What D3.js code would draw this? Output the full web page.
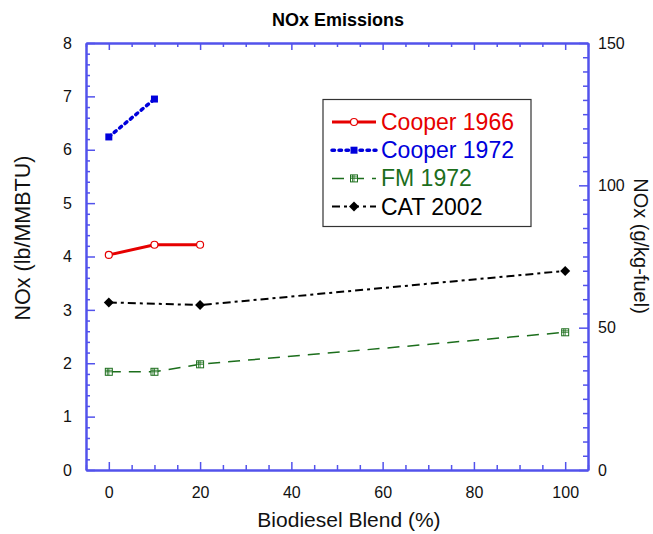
<!DOCTYPE html>
<html>
<head>
<meta charset="utf-8">
<script src="https://cdn.jsdelivr.net/npm/d3@7"></script>
<style>
  html, body { margin: 0; padding: 0; background: #fff; }
  svg { display: block; font-family: "Liberation Sans", Arial, Helvetica, sans-serif; }
</style>
</head>
<body>
<svg id="chart" width="653" height="534"></svg>
<script>
// Blend level (% biodiesel) and NOx (lb/MMBTU) for each study
const cooper1966X = [0, 10, 20];
const cooper1966Y = [4.03, 4.22, 4.22];
const cooper1972X = [0, 10];
const cooper1972Y = [6.24, 6.95];
const fm1972X = [0, 10, 20, 100];
const fm1972Y = [1.84, 1.84, 1.98, 2.58];
const cat2002X = [0, 20, 100];
const cat2002Y = [3.14, 3.09, 3.73];

const seriesNames = ["Cooper 1966", "Cooper 1972", "FM 1972", "CAT 2002"];
const xTicks = [0, 20, 40, 60, 80, 100];
const yLeftTicks = [0, 1, 2, 3, 4, 5, 6, 7, 8];
const yRightTicks = [0, 50, 100, 150];

const svg = d3.select("#chart");
const plotLeft = 86, plotRight = 588, plotTop = 43, plotBottom = 470;

const x = d3.scaleLinear().domain([-5, 105]).range([plotLeft, plotRight]);
const y = d3.scaleLinear().domain([0, 8]).range([plotBottom, plotTop]);
const y2 = d3.scaleLinear().domain([0, 150]).range([plotBottom, plotTop]);

const axisColor = "#5252ec";

function styleAxis(g, fontSize) {
  g.selectAll("path.domain").attr("stroke", axisColor).attr("stroke-width", 2);
  g.selectAll(".tick line").attr("stroke", axisColor).attr("stroke-width", 1.5);
  g.selectAll(".tick text").attr("fill", "#111").attr("font-size", fontSize)
    .attr("font-family", "'Liberation Sans', Arial, sans-serif");
}

// minor ticks
const xMinor = d3.range(-5, 106, 5).filter(v => v % 20 !== 0);
const yMinor = d3.range(0, 8.01, 0.2).map(v => +v.toFixed(1)).filter(v => Math.abs(v - Math.round(v)) > 1e-6);
const y2Minor = d3.range(0, 151, 5).filter(v => v % 50 !== 0);

// bottom
svg.append("g").attr("transform", `translate(0,${plotBottom})`)
  .call(d3.axisBottom(x).tickValues(xMinor).tickFormat("").tickSizeInner(-5).tickSizeOuter(0))
  .call(g => styleAxis(g, 16));
svg.append("g").attr("transform", `translate(0,${plotBottom})`)
  .call(d3.axisBottom(x).tickValues(xTicks).tickSizeInner(-8).tickSizeOuter(0).tickPadding(17))
  .call(g => styleAxis(g, 16));
// top
svg.append("g").attr("transform", `translate(0,${plotTop})`)
  .call(d3.axisTop(x).tickValues(xMinor).tickFormat("").tickSizeInner(-4).tickSizeOuter(0))
  .call(g => styleAxis(g, 16));
svg.append("g").attr("transform", `translate(0,${plotTop})`)
  .call(d3.axisTop(x).tickValues(xTicks).tickFormat("").tickSizeInner(-7).tickSizeOuter(0))
  .call(g => styleAxis(g, 16));
// left
svg.append("g").attr("transform", `translate(${plotLeft},0)`)
  .call(d3.axisLeft(y).tickValues(yMinor).tickFormat("").tickSizeInner(-4).tickSizeOuter(0))
  .call(g => styleAxis(g, 16));
svg.append("g").attr("transform", `translate(${plotLeft},0)`)
  .call(d3.axisLeft(y).tickValues(yLeftTicks).tickSizeInner(-9).tickSizeOuter(0).tickPadding(14))
  .call(g => styleAxis(g, 16));
// right
svg.append("g").attr("transform", `translate(${plotRight},0)`)
  .call(d3.axisRight(y2).tickValues(y2Minor).tickFormat("").tickSizeInner(-5).tickSizeOuter(0))
  .call(g => styleAxis(g, 16));
svg.append("g").attr("transform", `translate(${plotRight},0)`)
  .call(d3.axisRight(y2).tickValues(yRightTicks).tickSizeInner(-9).tickSizeOuter(0).tickPadding(10))
  .call(g => styleAxis(g, 16));

// titles
svg.append("text").attr("x", 338).attr("y", 26).attr("text-anchor", "middle")
  .attr("font-size", 18).attr("font-weight", "bold").attr("fill", "#000").text("NOx Emissions");
svg.append("text").attr("x", 349).attr("y", 527).attr("text-anchor", "middle")
  .attr("font-size", 21).attr("fill", "#111").text("Biodiesel Blend (%)");
svg.append("text").attr("transform", "translate(30,238) rotate(-90)").attr("text-anchor", "middle")
  .attr("font-size", 21.5).attr("fill", "#111").text("NOx (lb/MMBTU)");
svg.append("text").attr("transform", "translate(634,246) rotate(90)").attr("text-anchor", "middle")
  .attr("font-size", 20).attr("fill", "#111").text("NOx (g/kg-fuel)");

const series = [
  { name: seriesNames[0], xs: cooper1966X, ys: cooper1966Y, color: "#e60000", width: 3, dash: null, marker: "circle" },
  { name: seriesNames[1], xs: cooper1972X, ys: cooper1972Y, color: "#0000dc", width: 3.5, dash: "2.5,4.5", marker: "square" },
  { name: seriesNames[2], xs: fm1972X, ys: fm1972Y, color: "#1c6e1c", width: 1.5, dash: "12,8", marker: "grid" },
  { name: seriesNames[3], xs: cat2002X, ys: cat2002Y, color: "#000000", width: 2, dash: "8,4,3,4", marker: "diamond" }
];

const line = d3.line().x(d => x(d[0])).y(d => y(d[1]));

function drawMarker(g, type, cx, cy, color) {
  if (type === "circle") {
    g.append("circle").attr("cx", cx).attr("cy", cy).attr("r", 3.5)
      .attr("fill", "#fff").attr("stroke", color).attr("stroke-width", 1.2);
  } else if (type === "square") {
    g.append("rect").attr("x", cx - 3.5).attr("y", cy - 3.5).attr("width", 7).attr("height", 7)
      .attr("fill", color);
  } else if (type === "grid") {
    g.append("rect").attr("x", cx - 3.5).attr("y", cy - 3.5).attr("width", 7).attr("height", 7)
      .attr("fill", "#fff").attr("stroke", color).attr("stroke-width", 1);
    g.append("path").attr("d", `M${cx - 3.5},${cy}H${cx + 3.5}M${cx},${cy - 3.5}V${cy + 3.5}M${cx - 3.5},${cy - 1.5}H${cx + 3.5}M${cx - 1.5},${cy - 3.5}V${cy + 3.5}`)
      .attr("stroke", color).attr("stroke-width", 0.8).attr("fill", "none");
  } else if (type === "diamond") {
    g.append("path").attr("d", `M${cx},${cy - 5}L${cx + 5},${cy}L${cx},${cy + 5}L${cx - 5},${cy}Z`)
      .attr("fill", color);
  }
}

const plot = svg.append("g");
series.forEach(s => {
  const pts = s.xs.map((v, i) => [v, s.ys[i]]);
  plot.append("path").datum(pts).attr("d", line).attr("fill", "none")
    .attr("stroke", s.color).attr("stroke-width", s.width)
    .attr("stroke-dasharray", s.dash).attr("stroke-linecap", s.marker === "square" ? "round" : "butt");
  pts.forEach(p => drawMarker(plot, s.marker, x(p[0]), y(p[1]), s.color));
});

// legend
const lg = svg.append("g");
lg.append("rect").attr("x", 323).attr("y", 99.5).attr("width", 208).attr("height", 127)
  .attr("fill", "#fff").attr("stroke", "#333").attr("stroke-width", 1.2);
const legendColors = ["#e60000", "#0000dc", "#1c6e1c", "#000000"];
series.forEach((s, i) => {
  const cy = 122 + i * 28.2;
  lg.append("line").attr("x1", 332).attr("x2", 376).attr("y1", cy).attr("y2", cy)
    .attr("stroke", s.color).attr("stroke-width", s.width).attr("stroke-dasharray", s.dash)
    .attr("stroke-linecap", s.marker === "square" ? "round" : "butt");
  drawMarker(lg, s.marker, 354, cy, s.color);
  lg.append("text").attr("x", 381).attr("y", cy + 8).attr("font-size", 23)
    .attr("fill", legendColors[i]).text(s.name);
});
</script>
</body>
</html>
